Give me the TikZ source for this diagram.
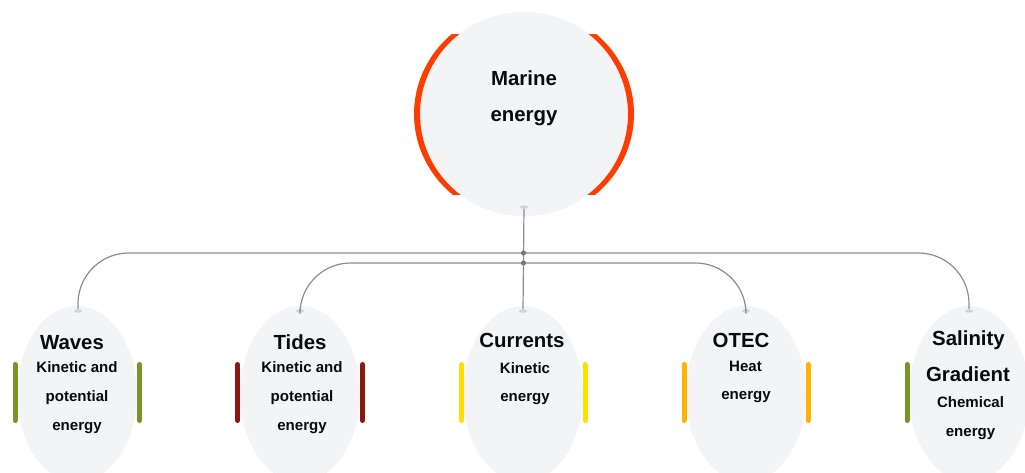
\documentclass[tikz,border=0pt]{standalone}
\usepackage{fontspec}
\setmainfont{Liberation Sans}
\usetikzlibrary{shapes.geometric}
\definecolor{bubble}{HTML}{F3F4F6}
\definecolor{hubred}{HTML}{FF3D00}
\definecolor{wavegreen}{HTML}{7A9428}
\definecolor{tidered}{HTML}{8B1A0C}
\definecolor{curyellow}{HTML}{FFE000}
\definecolor{otecorange}{HTML}{FFB300}
\definecolor{linkgray}{HTML}{8C8C8C}
\definecolor{portgray}{HTML}{C9D6D2}
\definecolor{ink}{HTML}{0A0A0A}
\tikzset{
  hubbubble/.style={ellipse, fill=bubble, inner sep=0, minimum width=157.5pt, minimum height=153pt},
  leaf/.style={ellipse, fill=bubble, inner sep=0, minimum width=90pt, minimum height=132pt},
  port/.style={ellipse, fill=portgray, inner sep=0, minimum width=6pt, minimum height=2.6pt},
  link/.style={draw=linkgray, line width=0.9pt},
  curvedlink/.style={link, rounded corners=38pt},
  bar/.style={line width=3.75pt, line cap=round},
  crescent/.style={fill=hubred, even odd rule},
  title/.style={font=\bfseries\fontsize{15.3}{18}\selectfont, text=ink, anchor=base, inner sep=0},
  desc/.style={font=\bfseries\fontsize{11.3}{13}\selectfont, text=ink, anchor=base, inner sep=0},
  jdot/.style={fill=linkgray!85!black}
}
\begin{document}
\begin{tikzpicture}[x=0.75pt,y=-0.75pt]
\useasboundingbox (0,0) rectangle (1025,473);
\clip (0,0) rectangle (1025,473);

% hub
\node[hubbubble] (hub) at (524,114) {};
\begin{scope}
  \clip (400,35) rectangle (472,195);
  \fill[crescent] (hub.center) ellipse [x radius=110, y radius=106]
                  (hub.center) ellipse [x radius=104, y radius=102];
\end{scope}
\begin{scope}
  \clip (576,35) rectangle (650,195);
  \fill[crescent] (hub.center) ellipse [x radius=110, y radius=106]
                  (hub.center) ellipse [x radius=104, y radius=102];
\end{scope}
\node[title] (hubA) at (524,86) {Marine};
\node[title] (hubB) at (524,122) {energy};
\node[port] (hubport) at (524,207) {};

% leaves
\node[leaf] (waves) at (77,394) {};
\node[leaf] (tides) at (300,394) {};
\node[leaf] (currents) at (523,394) {};
\node[leaf] (otec) at (746,394) {};
\node[leaf] (salinity) at (969,394) {};

% side bars
\draw[bar, wavegreen] (15,364.5) -- (15,420.5);
\draw[bar, wavegreen] (139.5,364.5) -- (139.5,420.5);
\draw[bar, tidered] (237.5,364.5) -- (237.5,420.5);
\draw[bar, tidered] (362.5,364.5) -- (362.5,420.5);
\draw[bar, curyellow] (461.5,364.5) -- (461.5,420.5);
\draw[bar, curyellow] (585,364.5) -- (585,420.5);
\draw[bar, otecorange] (684,364.5) -- (684,420.5);
\draw[bar, otecorange] (808,364.5) -- (808,420.5);
\draw[bar, wavegreen] (907,364.5) -- (907,420.5);
\draw[bar, wavegreen] (1031,364.5) -- (1031,420.5);

% ports
\node[port] (wavesport) at (78,311) {};
\node[port] (tidesport) at (300,311) {};
\node[port] (curport) at (523,311) {};
\node[port] (otecport) at (746,311) {};
\node[port] (salport) at (969,311) {};

% connectors
\coordinate (j1) at (523.5,253);
\coordinate (j2) at (523.5,263);
\draw[link] (hubport) -- (curport);
\draw[curvedlink] (j1) -| (wavesport);
\draw[curvedlink] (j1) -| (salport);
\draw[curvedlink] (j2) -| (tidesport);
\draw[curvedlink] (j2) -| (otecport);
\fill[jdot] (j1) circle (2.6);
\fill[jdot] (j2) circle (2.6);

% texts
\node[title] (wT) at (72,350) {Waves};
\node[desc] (w1) at (77,373) {Kinetic and};
\node[desc] (w2) at (77,402) {potential};
\node[desc] (w3) at (77,431) {energy};

\node[title] (tT) at (300,350) {Tides};
\node[desc] (t1) at (302,373) {Kinetic and};
\node[desc] (t2) at (302,402) {potential};
\node[desc] (t3) at (302,431) {energy};

\node[title] (cT) at (522,348) {Currents};
\node[desc] (c1) at (525,374) {Kinetic};
\node[desc] (c2) at (525,402) {energy};

\node[title] (oT) at (741,348) {OTEC};
\node[desc] (o1) at (745.5,372) {Heat};
\node[desc] (o2) at (746,400) {energy};

\node[title] (sT1) at (968.5,346) {Salinity};
\node[title] (sT2) at (968,382) {Gradient};
\node[desc] (s1) at (970.5,408) {Chemical};
\node[desc] (s2) at (970.5,437) {energy};
\end{tikzpicture}
\end{document}
